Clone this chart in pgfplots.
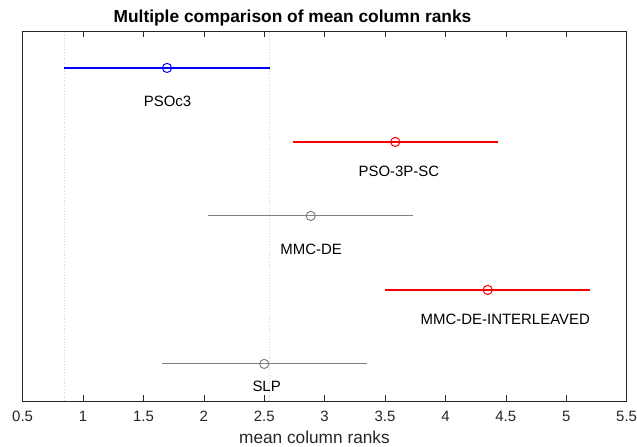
\documentclass[border=0pt]{standalone}
\usepackage{fontspec}
\setmainfont{Liberation Sans}
\usepackage{pgfplots}
\pgfplotsset{compat=1.18}
\definecolor{axgray}{rgb}{0.15,0.15,0.15}
\definecolor{mgray}{rgb}{0.5,0.5,0.5}
\definecolor{dotgray}{rgb}{0.82,0.82,0.82}
\definecolor{mblue}{rgb}{0,0,1}
\definecolor{mred}{rgb}{1,0,0}
\begin{document}
\begin{tikzpicture}
\begin{axis}[name=ax, scale only axis, width=605.6bp, height=371bp,
  xmin=0.5, xmax=5.5, ymin=0.5, ymax=5.5,
  xtick={0.5,1,1.5,2,2.5,3,3.5,4,4.5,5,5.5}, ytick=\empty,
  xtick pos=both, xticklabel pos=bottom,
  tick align=inside, major tick length=6bp,
  axis line style={axgray, line width=0.6bp},
  tick style={axgray, line width=0.6bp},
  /pgf/number format/assume math mode=true,
  xticklabel style={font=\fontsize{15bp}{18bp}\selectfont, text=axgray, anchor=base, inner sep=0pt, yshift=-20.7bp},
]
% reference lines at PSOc3 interval limits
\addplot[draw=dotgray, dotted, line width=0.8bp] coordinates {(0.845,0.5) (0.845,5.5)};
\addplot[draw=dotgray, dotted, line width=0.8bp] coordinates {(2.545,0.5) (2.545,5.5)};
% PSOc3
\addplot[draw=mblue, line width=1.5bp, mark=o, mark size=4.6bp, mark indices={2}, mark options={draw=mblue, fill=white, line width=1bp}] coordinates {(0.845,5) (1.695,5) (2.545,5)};
% PSO-3P-SC
\addplot[draw=mred, line width=1.5bp, mark=o, mark size=4.6bp, mark indices={2}, mark options={draw=mred, fill=white, line width=1bp}] coordinates {(2.735,4) (3.585,4) (4.435,4)};
% MMC-DE
\addplot[draw=mgray, line width=1bp, mark=o, mark size=4.6bp, mark indices={2}, mark options={draw=mgray, fill=white, line width=1bp}] coordinates {(2.035,3) (2.885,3) (3.735,3)};
% MMC-DE-INTERLEAVED
\addplot[draw=mred, line width=1.5bp, mark=o, mark size=4.6bp, mark indices={2}, mark options={draw=mred, fill=white, line width=1bp}] coordinates {(3.50,2) (4.35,2) (5.20,2)};
% SLP
\addplot[draw=mgray, line width=1bp, mark=o, mark size=4.6bp, mark indices={2}, mark options={draw=mgray, fill=white, line width=1bp}] coordinates {(1.65,1) (2.50,1) (3.35,1)};
% labels
\node[anchor=base, inner sep=0pt, font=\fontsize{15bp}{18bp}\selectfont] at (axis cs:1.70,4.472) {PSOc3};
\node[anchor=base, inner sep=0pt, font=\fontsize{15bp}{18bp}\selectfont] at (axis cs:3.615,3.536) {PSO-3P-SC};
\node[anchor=base, inner sep=0pt, font=\fontsize{15bp}{18bp}\selectfont] at (axis cs:2.889,2.481) {MMC-DE};
\node[anchor=base east, inner sep=0pt, font=\fontsize{15bp}{18bp}\selectfont] at (axis cs:5.198,1.538) {MMC-DE-INTERLEAVED};
\node[anchor=base, inner sep=0pt, font=\fontsize{15bp}{18bp}\selectfont] at (axis cs:2.52,0.631) {SLP};
\end{axis}
\node[anchor=base, inner sep=0pt, font=\fontsize{17.4bp}{20bp}\selectfont\bfseries] at ([xshift=270.6bp,yshift=8bp]ax.north west) {Multiple comparison of mean column ranks};
\node[anchor=base, inner sep=0pt, font=\fontsize{17.3bp}{20bp}\selectfont, text=axgray] at ([xshift=292.6bp,yshift=-43bp]ax.south west) {mean column ranks};
\path ([xshift=-22.7bp,yshift=-46bp]ax.south west) rectangle ([xshift=8.7bp,yshift=31bp]ax.north east);
\end{tikzpicture}
\end{document}
